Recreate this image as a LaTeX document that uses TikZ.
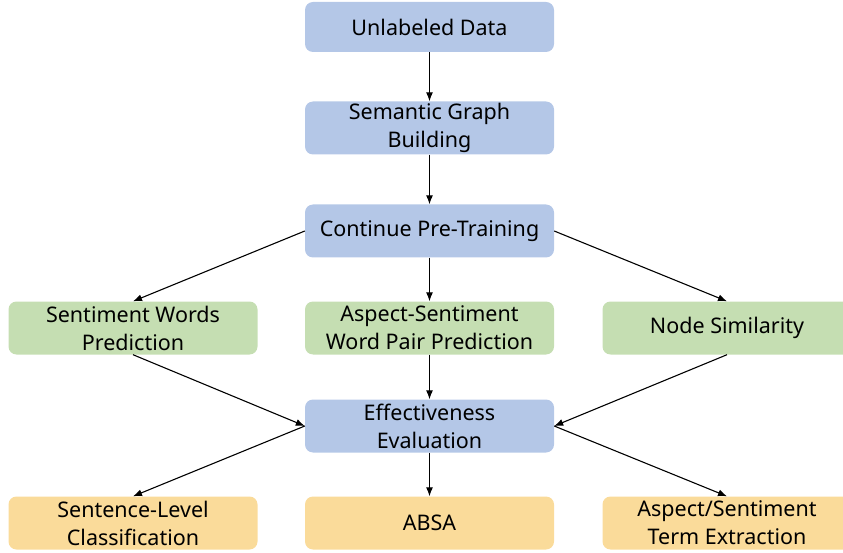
\documentclass[tikz,border=0pt]{standalone}
\usepackage{fontspec}
\setmainfont{Noto Sans}
\usetikzlibrary{arrows.meta}
\definecolor{bluebox}{HTML}{B4C7E7}
\definecolor{greenbox}{HTML}{C5DEB2}
\definecolor{orangebox}{HTML}{FADB9A}
\begin{document}
\begin{tikzpicture}[x=1pt,y=-1pt,
  box/.style={rounded corners=8pt, minimum width=249pt, minimum height=53pt, inner sep=0pt, align=center, font=\fontsize{21.5}{28}\selectfont, text=black},
  bbox/.style={box, fill=bluebox},
  gbox/.style={box, fill=greenbox},
  obox/.style={box, fill=orangebox},
  arr/.style={-{Latex[length=9pt,width=7pt]}, line width=1.1pt, black}]
\useasboundingbox (0,0) rectangle (843,553);
\begin{scope}
\clip (0,0) rectangle (843,553);
\node[bbox, minimum height=50pt] (ud) at (429.5,27) {Unlabeled Data};
\node[bbox] (sg) at (429.5,128) {Semantic Graph\\Building};
\node[bbox] (cp) at (429.5,231) {Continue Pre-Training};
\node[gbox] (sw) at (133,328) {Sentiment Words\\Prediction};
\node[gbox] (as) at (429.5,328) {Aspect-Sentiment\\Word Pair Prediction};
\node[gbox] (ns) at (727,328) {Node Similarity};
\node[bbox] (ee) at (429.5,426) {Effectiveness\\Evaluation};
\node[obox] (sl) at (133,523) {Sentence-Level\\Classification};
\node[obox] (ab) at (429.5,523) {ABSA};
\node[obox] (at) at (727,523) {Aspect/Sentiment\\Term Extraction};
\end{scope}
\draw[arr] (ud.south) -- (sg.north);
\draw[arr] (sg.south) -- (cp.north);
\draw[arr] (cp.west) -- (sw.north);
\draw[arr] (cp.south) -- (as.north);
\draw[arr] (cp.east) -- (ns.north);
\draw[arr] (sw.south) -- (ee.west);
\draw[arr] (as.south) -- (ee.north);
\draw[arr] (ns.south) -- (ee.east);
\draw[arr] (ee.west) -- (sl.north);
\draw[arr] (ee.south) -- (ab.north);
\draw[arr] (ee.east) -- (at.north);
\end{tikzpicture}
\end{document}
